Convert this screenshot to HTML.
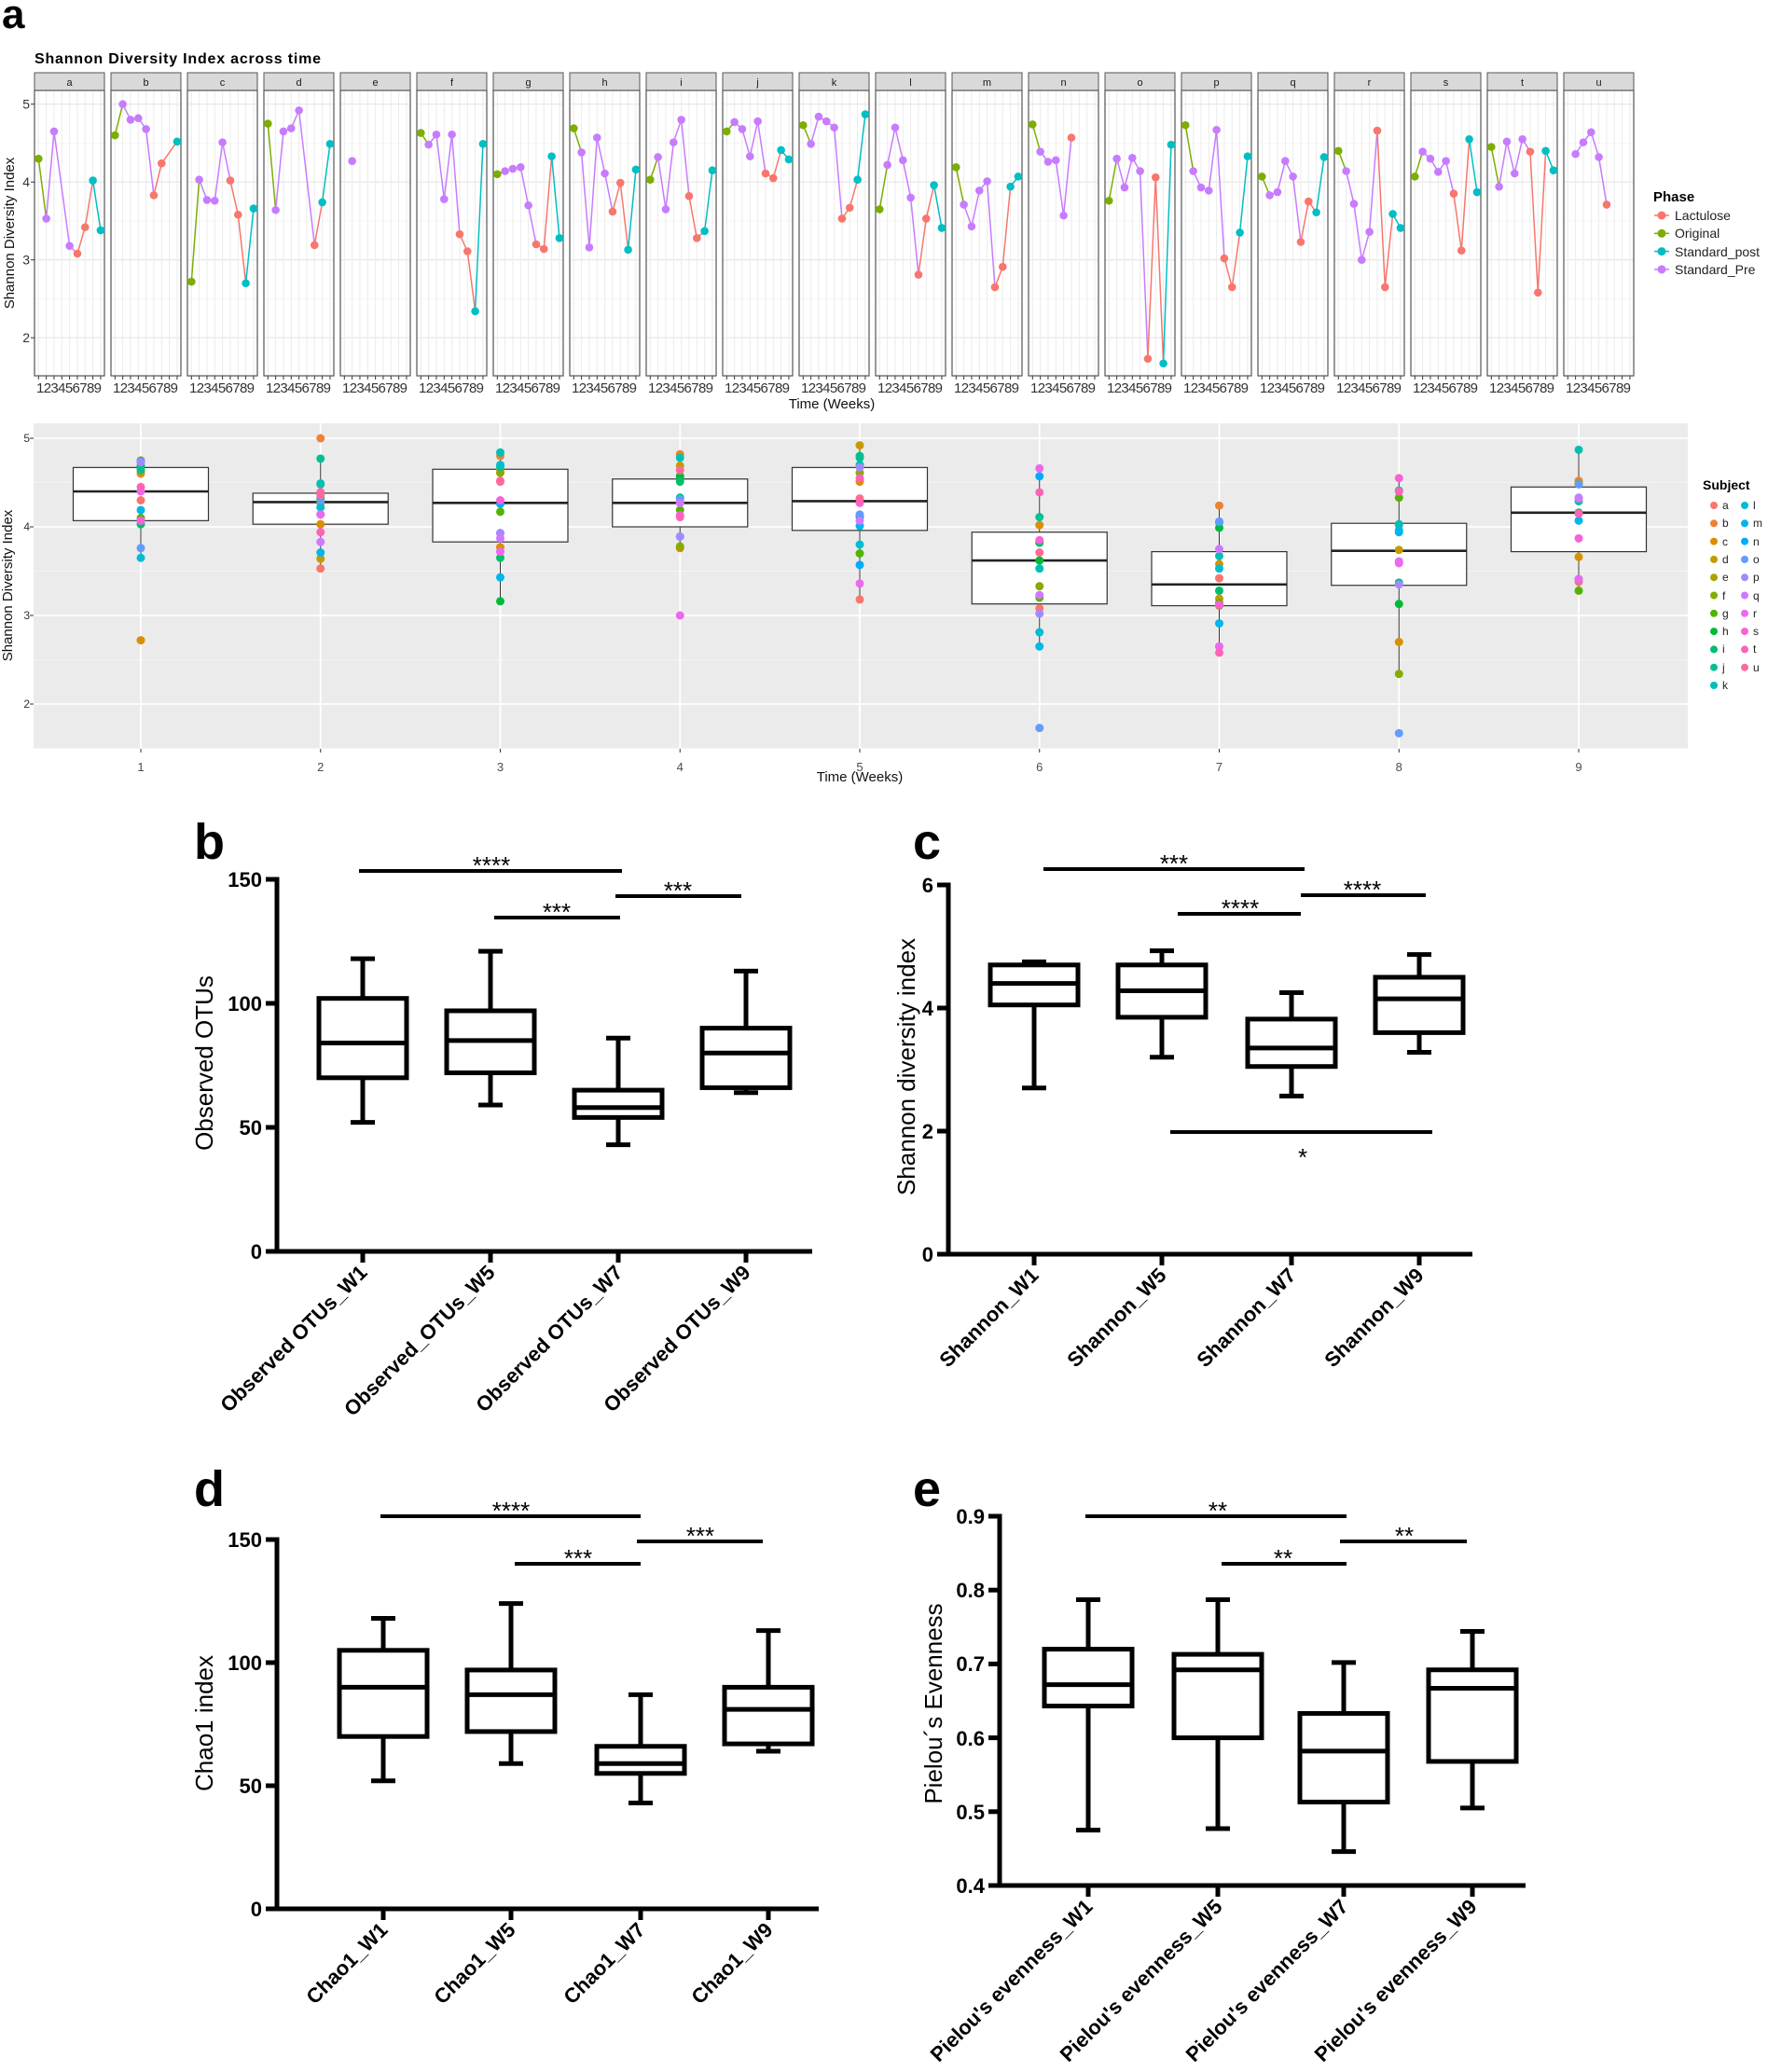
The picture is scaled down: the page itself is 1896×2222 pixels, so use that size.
<!DOCTYPE html>
<html><head><meta charset="utf-8"><style>
html,body{margin:0;padding:0;background:#fff}
svg{display:block}
text{font-family:"Liberation Sans",Arial,sans-serif}
.st{font-size:11px;fill:#1a1a1a;text-anchor:middle}
.tk{font-size:15px;fill:#333}
.yl{font-size:14px;fill:#333;text-anchor:end}
.bt{font-size:22px;font-weight:bold;text-anchor:end}
.xl{font-size:22px;font-weight:bold;text-anchor:end}
.sg{font-size:26px;text-anchor:middle}
.ax{font-size:26px;text-anchor:middle}
.pl{font-size:54px;font-weight:bold}
</style></head><body>
<svg id="s" xmlns="http://www.w3.org/2000/svg" width="1896" height="2222" viewBox="0 0 1896 2222">
<rect width="1896" height="2222" fill="#fff"/>
<g id="shapes"></g>
<text x="2" y="30" style="font-size:44px;font-weight:bold">a</text>
<text x="37" y="68" style="font-size:16px;font-weight:bold" textLength="307">Shannon Diversity Index across time</text>
<g class="st">
<text x="74.5" y="92">a</text><text x="156.5" y="92">b</text><text x="238.5" y="92">c</text><text x="320.5" y="92">d</text><text x="402.5" y="92">e</text><text x="484.5" y="92">f</text><text x="566.5" y="92">g</text><text x="648.5" y="92">h</text><text x="730.5" y="92">i</text><text x="812.5" y="92">j</text><text x="894.5" y="92">k</text><text x="976.5" y="92">l</text><text x="1058.5" y="92">m</text><text x="1140.5" y="92">n</text><text x="1222.5" y="92">o</text><text x="1304.5" y="92">p</text><text x="1386.5" y="92">q</text><text x="1468.5" y="92">r</text><text x="1550.5" y="92">s</text><text x="1632.5" y="92">t</text><text x="1714.5" y="92">u</text>
</g>
<g class="tk">
<text x="39" y="421" textLength="70">123456789</text><text x="121" y="421" textLength="70">123456789</text><text x="203" y="421" textLength="70">123456789</text><text x="285" y="421" textLength="70">123456789</text><text x="367" y="421" textLength="70">123456789</text><text x="449" y="421" textLength="70">123456789</text><text x="531" y="421" textLength="70">123456789</text><text x="613" y="421" textLength="70">123456789</text><text x="695" y="421" textLength="70">123456789</text><text x="777" y="421" textLength="70">123456789</text><text x="859" y="421" textLength="70">123456789</text><text x="941" y="421" textLength="70">123456789</text><text x="1023" y="421" textLength="70">123456789</text><text x="1105" y="421" textLength="70">123456789</text><text x="1187" y="421" textLength="70">123456789</text><text x="1269" y="421" textLength="70">123456789</text><text x="1351" y="421" textLength="70">123456789</text><text x="1433" y="421" textLength="70">123456789</text><text x="1515" y="421" textLength="70">123456789</text><text x="1597" y="421" textLength="70">123456789</text><text x="1679" y="421" textLength="70">123456789</text>
</g>
<g class="yl"><text x="32" y="116.7">5</text><text x="32" y="200.2">4</text><text x="32" y="283.7">3</text><text x="32" y="367.2">2</text></g>
<text transform="rotate(-90 15 250)" x="15" y="250" style="font-size:15px;fill:#111;text-anchor:middle">Shannon Diversity Index</text>
<text x="892" y="438" style="font-size:15px;fill:#111;text-anchor:middle">Time (Weeks)</text>
<text x="1773" y="216" style="font-size:15px;font-weight:bold">Phase</text>
<g style="font-size:14px;fill:#222"><text x="1796" y="236">Lactulose</text><text x="1796" y="255">Original</text><text x="1796" y="275">Standard_post</text><text x="1796" y="294">Standard_Pre</text></g>
<g class="yl" style="font-size:12px"><text x="32" y="474">5</text><text x="32" y="569">4</text><text x="32" y="664">3</text><text x="32" y="759">2</text></g>
<text transform="rotate(-90 13 628)" x="13" y="628" style="font-size:15px;fill:#111;text-anchor:middle">Shannon Diversity Index</text>
<g style="font-size:13px;fill:#4d4d4d;text-anchor:middle"><text x="151" y="827">1</text><text x="343.75" y="827">2</text><text x="536.5" y="827">3</text><text x="729.25" y="827">4</text><text x="922" y="827">5</text><text x="1114.75" y="827">6</text><text x="1307.5" y="827">7</text><text x="1500.25" y="827">8</text><text x="1693" y="827">9</text></g>
<text x="922" y="838" style="font-size:15px;fill:#111;text-anchor:middle" dy="0">Time (Weeks)</text>
<text x="1826" y="525" style="font-size:14px;font-weight:bold">Subject</text>
<g style="font-size:12px;fill:#222">
<text x="1847" y="546">a</text><text x="1847" y="565">b</text><text x="1847" y="585">c</text><text x="1847" y="604">d</text><text x="1847" y="623">e</text><text x="1847" y="643">f</text><text x="1847" y="662">g</text><text x="1847" y="681">h</text><text x="1847" y="700">i</text><text x="1847" y="720">j</text><text x="1847" y="739">k</text>
<text x="1880" y="546">l</text><text x="1880" y="565">m</text><text x="1880" y="585">n</text><text x="1880" y="604">o</text><text x="1880" y="623">p</text><text x="1880" y="643">q</text><text x="1880" y="662">r</text><text x="1880" y="681">s</text><text x="1880" y="700">t</text><text x="1880" y="720">u</text>
</g>
<text class="pl" x="208" y="921">b</text>
<text class="pl" x="979" y="921">c</text>
<text class="pl" x="208" y="1615">d</text>
<text class="pl" x="979" y="1615">e</text>
<g class="bt"><text x="281" y="951">150</text><text x="281" y="1084">100</text><text x="281" y="1217">50</text><text x="281" y="1350">0</text></g>
<text class="ax" transform="rotate(-90 228 1140)" x="228" y="1140">Observed OTUs</text>
<g class="xl">
<text transform="rotate(-45 395 1366)" x="395" y="1366">Observed OTUs_W1</text>
<text transform="rotate(-45 532 1366)" x="532" y="1366">Observed_OTUs_W5</text>
<text transform="rotate(-45 669 1366)" x="669" y="1366">Observed OTUs_W7</text>
<text transform="rotate(-45 806 1366)" x="806" y="1366">Observed OTUs_W9</text>
</g>
<g class="sg"><text x="527" y="937">****</text><text x="597" y="987">***</text><text x="727" y="964">***</text></g>
<g class="bt"><text x="1001" y="957">6</text><text x="1001" y="1089">4</text><text x="1001" y="1221">2</text><text x="1001" y="1353">0</text></g>
<text class="ax" transform="rotate(-90 981 1144)" x="981" y="1144">Shannon diversity index</text>
<g class="xl">
<text transform="rotate(-45 1115 1369)" x="1115" y="1369">Shannon_W1</text>
<text transform="rotate(-45 1252 1369)" x="1252" y="1369">Shannon_W5</text>
<text transform="rotate(-45 1391 1369)" x="1391" y="1369">Shannon_W7</text>
<text transform="rotate(-45 1528 1369)" x="1528" y="1369">Shannon_W9</text>
</g>
<g class="sg"><text x="1259" y="935">***</text><text x="1330" y="983">****</text><text x="1461" y="963">****</text><text x="1397" y="1250">*</text></g>
<g class="bt"><text x="281" y="1659">150</text><text x="281" y="1791">100</text><text x="281" y="1923">50</text><text x="281" y="2055">0</text></g>
<text class="ax" transform="rotate(-90 228 1848)" x="228" y="1848">Chao1 index</text>
<g class="xl">
<text transform="rotate(-45 417 2071)" x="417" y="2071">Chao1_W1</text>
<text transform="rotate(-45 554 2071)" x="554" y="2071">Chao1_W5</text>
<text transform="rotate(-45 693 2071)" x="693" y="2071">Chao1_W7</text>
<text transform="rotate(-45 830 2071)" x="830" y="2071">Chao1_W9</text>
</g>
<g class="sg"><text x="548" y="1629">****</text><text x="620" y="1680">***</text><text x="751" y="1656">***</text></g>
<g class="bt"><text x="1056" y="1634">0.9</text><text x="1056" y="1713">0.8</text><text x="1056" y="1792">0.7</text><text x="1056" y="1872">0.6</text><text x="1056" y="1951">0.5</text><text x="1056" y="2030">0.4</text></g>
<text class="ax" transform="rotate(-90 1010 1827)" x="1010" y="1827">Pielou´s Evenness</text>
<g class="xl">
<text transform="rotate(-45 1173 2046)" x="1173" y="2046">Pielou's evenness_W1</text>
<text transform="rotate(-45 1312 2046)" x="1312" y="2046">Pielou's evenness_W5</text>
<text transform="rotate(-45 1447 2046)" x="1447" y="2046">Pielou's evenness_W7</text>
<text transform="rotate(-45 1585 2046)" x="1585" y="2046">Pielou's evenness_W9</text>
</g>
<g class="sg"><text x="1306" y="1629">**</text><text x="1376" y="1680">**</text><text x="1506" y="1656">**</text></g>
</svg>
<script>
(function(){
var NS="http://www.w3.org/2000/svg",G=document.getElementById("shapes");
function el(t,a){var e=document.createElementNS(NS,t);for(var k in a)e.setAttribute(k,a[k]);G.appendChild(e);return e;}
function ln(x1,y1,x2,y2,c,w){el("line",{x1:x1,y1:y1,x2:x2,y2:y2,stroke:c,"stroke-width":w});}
function hcl(h){var L=65,C=100,hr=h*Math.PI/180,u=C*Math.cos(hr),v=C*Math.sin(hr);
var Y=Math.pow((L+16)/116,3),un=0.1978398,vn=0.4683363;
var up=u/(13*L)+un,vp=v/(13*L)+vn;
var X=Y*9*up/(4*vp),Z=Y*(12-3*up-20*vp)/(4*vp);
var r=3.2406*X-1.5372*Y-0.4986*Z,g=-0.9689*X+1.8758*Y+0.0415*Z,bb=0.0557*X-0.2040*Y+1.0570*Z;
function gm(c){c=c<=0.0031308?12.92*c:1.055*Math.pow(c,1/2.4)-0.055;return Math.round(Math.max(0,Math.min(1,c))*255);}
return "rgb("+gm(r)+","+gm(g)+","+gm(bb)+")";}
var N=null;
var D={a:[4.30,3.53,4.65,N,3.18,3.08,3.42,4.02,3.38],b:[4.60,5.00,4.80,4.82,4.68,3.83,4.24,N,4.52],c:[2.72,4.03,3.77,3.76,4.51,4.02,3.58,2.70,3.66],d:[4.75,3.64,4.65,4.69,4.92,N,3.19,3.74,4.49],e:[N,4.27,N,N,N,N,N,N,N],f:[4.63,4.48,4.61,3.78,4.61,3.33,3.11,2.34,4.49],g:[4.10,4.14,4.17,4.19,3.70,3.20,3.14,4.33,3.28],h:[4.69,4.38,3.16,4.57,4.11,3.62,3.99,3.13,4.16],i:[4.03,4.32,3.65,4.51,4.80,3.82,3.28,3.37,4.15],j:[4.65,4.77,4.68,4.33,4.78,4.11,4.05,4.41,4.29],k:[4.73,4.49,4.84,4.78,4.70,3.53,3.67,4.03,4.87],l:[3.65,4.22,4.70,4.28,3.80,2.81,3.53,3.96,3.41],m:[4.19,3.71,3.43,3.89,4.01,2.65,2.91,3.94,4.07],n:[4.74,4.39,4.26,4.28,3.57,4.57,N,N,N],o:[3.76,4.30,3.93,4.31,4.14,1.73,4.06,1.67,4.48],p:[4.73,4.14,3.93,3.89,4.67,3.02,2.65,3.35,4.33],q:[4.07,3.83,3.87,4.27,4.07,3.23,3.75,3.61,4.32],r:[4.40,4.14,3.72,3.00,3.36,4.66,2.65,3.59,3.41],s:[4.07,4.39,4.30,4.13,4.27,3.85,3.12,4.55,3.87],t:[4.45,3.94,4.52,4.11,4.55,4.39,2.58,4.40,4.15],u:[N,4.36,4.51,4.64,4.32,3.71,N,N,N]};
var keys="abcdefghijklmnopqrstu".split("");
var PH=["#7CAE00","#C77CFF","#C77CFF","#C77CFF","#C77CFF","#F8766D","#F8766D","#00BFC4","#00BFC4"];
function Y1(v){return 111.7+(5-v)*83.5;}
keys.forEach(function(k,fi){
 var L=37+82*fi,R=L+75;
 el("rect",{x:L,y:78,width:75,height:19,fill:"#d9d9d9",stroke:"#555","stroke-width":1});
 el("rect",{x:L,y:97,width:75,height:306,fill:"#fff"});
 [1.5,2.5,3.5,4.5].forEach(function(v){ln(L,Y1(v),R,Y1(v),"#f4f4f4",0.8);});
 [2,3,4,5].forEach(function(v){ln(L,Y1(v),R,Y1(v),"#e6e6e6",1.2);});
 for(var w=1;w<=9;w++){var x=L+4.3+(w-1)*8.33;ln(x,97,x,403,"#ebebeb",1);ln(x,403,x,407,"#333",1);}
 el("rect",{x:L,y:97,width:75,height:306,fill:"none",stroke:"#555","stroke-width":1.2});
 var d=D[k],prev=null;
 for(var w=0;w<9;w++){if(d[w]==null)continue;var x=L+4.3+w*8.33,y=Y1(d[w]);
  if(prev)ln(prev[0],prev[1],x,y,PH[prev[2]],1.5);prev=[x,y,w];}
 for(var w=0;w<9;w++){if(d[w]==null)continue;el("circle",{cx:L+4.3+w*8.33,cy:Y1(d[w]),r:4.3,fill:PH[w]});}
});
for(var v=2;v<=5;v++){ln(33,Y1(v),37,Y1(v),"#333",1);}
["#F8766D","#7CAE00","#00BFC4","#C77CFF"].forEach(function(c,i){var y=231+i*19.3;ln(1774,y,1790,y,c,1.5);el("circle",{cx:1782,cy:y,r:4.5,fill:c});});
function Y2(v){return 565-(v-4)*95;}
el("rect",{x:36,y:454,width:1774,height:349,fill:"#ebebeb"});
[1.5,2.5,3.5,4.5].forEach(function(v){ln(36,Y2(v),1810,Y2(v),"#f7f7f7",0.8);});
[2,3,4,5].forEach(function(v){ln(36,Y2(v),1810,Y2(v),"#fff",1.8);ln(32,Y2(v),36,Y2(v),"#333",1);});
function XW(w){return 151+192.75*(w-1);}
for(var w=1;w<=9;w++){ln(XW(w),454,XW(w),803,"#fff",1.8);ln(XW(w),803,XW(w),807,"#333",1);}
var ST=[[3.65,4.07,4.4,4.67,4.75],[3.53,4.03,4.28,4.38,4.77],[3.16,3.83,4.27,4.65,4.85],[3.77,4.0,4.27,4.54,4.82],[3.19,3.96,4.29,4.67,4.93],[2.65,3.13,3.62,3.94,4.66],[2.58,3.11,3.35,3.72,4.25],[2.33,3.34,3.73,4.04,4.55],[3.28,3.72,4.16,4.45,4.87]];
ST.forEach(function(s,i){var x=XW(i+1);ln(x,Y2(s[0]),x,Y2(s[4]),"#333",1);
 el("rect",{x:x-72.5,y:Y2(s[3]),width:145,height:Y2(s[1])-Y2(s[3]),fill:"#fff",stroke:"#333","stroke-width":1.2});
 ln(x-72.5,Y2(s[2]),x+72.5,Y2(s[2]),"#222",2.6);});
var SC=keys.map(function(k,i){return hcl(15+i*360/21);});
keys.forEach(function(k,i){var d=D[k];for(var w=0;w<9;w++){if(d[w]==null)continue;el("circle",{cx:XW(w+1),cy:Y2(d[w]),r:4.5,fill:SC[i]});}});
keys.forEach(function(k,i){var col=i<11?0:1,row=i<11?i:i-11;el("circle",{cx:col?1871:1838,cy:542+row*19.3,r:4,fill:SC[i]});});
function panel(P){
 var sc=function(v){return P.y0-(v-P.v0)*P.k;};
 ln(P.ax,P.y0+2.5,P.ax,P.yTop-2.5,"#000",5);
 ln(P.ax-2.5,P.y0,P.xe,P.y0,"#000",5);
 P.ticks.forEach(function(v){ln(P.ax-12,sc(v),P.ax,sc(v),"#000",5);});
 P.cats.forEach(function(x,i){ln(x,P.y0,x,P.y0+12,"#000",5);var s=P.s[i];
  ln(x,sc(s[0]),x,sc(s[1]),"#000",5);ln(x,sc(s[3]),x,sc(s[4]),"#000",5);
  ln(x-13,sc(s[0]),x+13,sc(s[0]),"#000",5);ln(x-13,sc(s[4]),x+13,sc(s[4]),"#000",5);
  el("rect",{x:x-47,y:sc(s[3]),width:94,height:sc(s[1])-sc(s[3]),fill:"none",stroke:"#000","stroke-width":5});
  ln(x-47,sc(s[2]),x+47,sc(s[2]),"#000",5);});
 P.sig.forEach(function(g){ln(g[1],g[0],g[2],g[0],"#000",4);});
}
panel({ax:297,y0:1342,v0:0,k:399/150,yTop:943,xe:871,ticks:[0,50,100,150],cats:[389,526,663,800],
 s:[[52,70,84,102,118],[59,72,85,97,121],[43,54,58,65,86],[64,66,80,90,113]],sig:[[934,385,667],[984,530,665],[961,660,795]]});
panel({ax:1017,y0:1345,v0:0,k:66,yTop:949,xe:1579,ticks:[0,2,4,6],cats:[1109,1246,1385,1522],
 s:[[2.7,4.05,4.4,4.7,4.75],[3.2,3.85,4.28,4.7,4.93],[2.57,3.05,3.35,3.82,4.25],[3.28,3.6,4.15,4.5,4.87]],sig:[[932,1119,1399],[980,1263,1395],[960,1395,1529],[1214,1255,1536]]});
panel({ax:297,y0:2047,v0:0,k:396/150,yTop:1651,xe:878,ticks:[0,50,100,150],cats:[411,548,687,824],
 s:[[52,70,90,105,118],[59,72,87,97,124],[43,55,59,66,87],[64,67,81,90,113]],sig:[[1626,408,687],[1677,552,687],[1653,683,818]]});
panel({ax:1072,y0:2022,v0:0.4,k:792,yTop:1626,xe:1636,ticks:[0.4,0.5,0.6,0.7,0.8,0.9],cats:[1167,1306,1441,1579],
 s:[[0.475,0.643,0.672,0.72,0.787],[0.477,0.6,0.692,0.713,0.787],[0.446,0.513,0.582,0.633,0.702],[0.505,0.568,0.667,0.692,0.744]],sig:[[1626,1164,1444],[1677,1310,1444],[1653,1437,1573]]});
})();
</script>
</body></html>
